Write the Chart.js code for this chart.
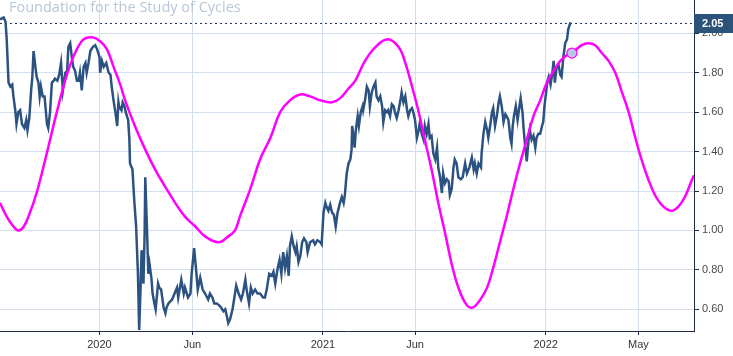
<!DOCTYPE html>
<html>
<head>
<meta charset="utf-8">
<script src="https://cdn.jsdelivr.net/npm/chart.js@4.4.1/dist/chart.umd.min.js"></script>
<style>
html,body{margin:0;padding:0;background:#ffffff;}
#wrap{width:733px;height:356px;position:relative;}
</style>
</head>
<body>
<div id="wrap"><canvas id="c" width="733" height="356"></canvas></div>
<script>
// x values are days since 2020-01-01
const titleText = "Foundation for the Study of Cycles";
const xMin = -163, xMax = 974;
const xTickDays = [0, 152, 366, 517, 731, 883];
const xTickLabels = ["2020", "Jun", "2021", "Jun", "2022", "May"];
const yMin = 0.49, yMax = 2.169;
const yTickValues = [0.6, 0.8, 1.0, 1.2, 1.4, 1.6, 1.8, 2.0];
const lastPrice = 2.05;

const priceDays = [-163,-157,-154,-152,-149,-146,-143,-141,-138,-136,-133,-130,-127,-123,-120,-118,-115,-112,-110,-108,
-105,-103,-100,-98,-96,-93,-90,-86,-84,-81,-78,-75,-73,-69,-66,-63,-60,-56,-53,-51,
-48,-45,-43,-40,-37,-34,-32,-29,-26,-23,-21,-18,-15,-11,-7,-4,0,1,4,7,
11,15,18,20,23,26,29,31,32,36,38,41,43,47,49,50,54,57,60,63,
65,67,69,72,74,75,78,80,82,85,87,90,92,96,98,101,105,108,110,113,
119,123,127,129,134,138,140,145,149,151,155,158,161,165,169,173,178,181,185,188,
192,196,199,203,206,209,211,214,218,221,224,228,232,235,239,241,245,248,251,255,
259,263,268,271,274,278,282,285,288,292,295,298,301,304,307,310,312,315,318,321,
323,326,329,332,335,339,341,345,350,353,357,362,364,367,370,372,375,378,381,384,
387,390,394,397,400,402,405,408,411,413,414,418,420,423,425,428,431,432,435,438,
441,443,446,449,452,454,457,460,463,465,468,471,473,476,479,482,484,487,490,493,
495,498,501,504,506,509,512,514,517,520,523,525,528,531,533,536,539,541,544,547,
550,553,555,558,561,563,566,569,572,574,577,580,582,585,588,592,595,599,602,606,
610,613,615,618,621,625,626,629,632,635,637,640,643,645,648,651,654,656,659,662,
665,667,670,673,675,677,679,682,685,688,690,693,695,697,700,703,705,708,711,714,
716,719,722,725,727,729,732,734,736,739,742,744,746,749,752,755,757,760,763,766,
768,771,773];
const priceValues = [2.07,2.08,2.06,1.97,1.75,1.73,1.74,1.68,1.61,1.54,1.60,1.61,1.54,1.52,1.56,1.51,1.57,1.71,1.78,1.91,
1.83,1.78,1.75,1.68,1.73,1.68,1.68,1.54,1.52,1.60,1.75,1.76,1.77,1.76,1.79,1.85,1.71,1.80,1.81,1.93,
1.95,1.87,1.83,1.81,1.76,1.76,1.80,1.71,1.83,1.85,1.80,1.85,1.91,1.93,1.94,1.92,1.88,1.80,1.86,1.83,
1.85,1.80,1.79,1.73,1.66,1.60,1.53,1.65,1.63,1.61,1.65,1.63,1.60,1.56,1.46,1.34,1.31,1.15,1.02,0.78,
0.495,0.68,0.90,0.73,0.99,1.27,0.99,0.78,0.83,0.76,0.68,0.63,0.60,0.73,0.71,0.70,0.61,0.58,0.61,0.63,
0.65,0.68,0.71,0.66,0.75,0.68,0.71,0.66,0.68,0.78,0.91,0.81,0.70,0.76,0.70,0.68,0.65,0.68,0.66,0.63,
0.63,0.62,0.61,0.59,0.60,0.56,0.53,0.55,0.60,0.66,0.72,0.68,0.65,0.68,0.75,0.70,0.63,0.71,0.68,0.70,
0.68,0.68,0.66,0.66,0.70,0.78,0.77,0.79,0.73,0.81,0.85,0.78,0.89,0.81,0.87,0.77,0.92,0.97,0.92,0.89,
0.92,0.84,0.87,0.94,0.96,0.94,0.89,0.94,0.95,0.93,0.95,0.94,0.93,1.09,1.14,1.12,1.10,1.13,1.09,1.08,
1.02,1.09,1.14,1.17,1.14,1.18,1.29,1.34,1.36,1.41,1.53,1.42,1.51,1.58,1.53,1.60,1.63,1.61,1.66,1.73,
1.71,1.63,1.70,1.73,1.75,1.68,1.66,1.68,1.63,1.55,1.61,1.60,1.61,1.58,1.64,1.63,1.60,1.57,1.61,1.66,
1.70,1.65,1.68,1.61,1.58,1.61,1.62,1.60,1.56,1.47,1.51,1.55,1.49,1.46,1.53,1.49,1.54,1.47,1.48,1.39,
1.36,1.42,1.32,1.27,1.19,1.29,1.24,1.26,1.25,1.18,1.21,1.32,1.36,1.34,1.27,1.26,1.27,1.34,1.29,1.32,
1.37,1.31,1.34,1.29,1.34,1.32,1.39,1.49,1.55,1.51,1.47,1.53,1.60,1.62,1.53,1.58,1.65,1.68,1.63,1.55,
1.59,1.58,1.56,1.47,1.44,1.53,1.58,1.63,1.56,1.63,1.67,1.60,1.51,1.44,1.35,1.46,1.51,1.46,1.48,1.42,
1.47,1.49,1.49,1.53,1.55,1.63,1.71,1.76,1.78,1.74,1.80,1.86,1.75,1.83,1.84,1.79,1.78,1.88,1.95,1.97,
2.02,2.05,2.05];

const cycleDays = [-163,-152,-141,-133,-124,-114,-103,-92,-81,-70,-59,-48,-37,-26,-12,1,12,23,34,42,
58,75,91,108,124,140,157,173,195,211,222,230,247,263,280,296,312,329,345,362,
381,394,408,419,435,452,472,490,501,512,523,533,544,555,566,577,588,602,612,624,
635,645,656,667,678,689,700,711,722,733,744,755,766,774,790,801,812,823,834,845,
856,867,877,888,899,910,921,936,948,959,971,974];
const cycleValues = [1.14,1.07,1.02,1.00,1.02,1.09,1.19,1.32,1.46,1.60,1.73,1.84,1.92,1.97,1.98,1.96,1.92,1.83,1.74,1.66,
1.53,1.41,1.31,1.22,1.14,1.07,1.02,0.97,0.94,0.97,1.00,1.07,1.21,1.36,1.47,1.60,1.66,1.69,1.68,1.66,
1.65,1.67,1.72,1.76,1.86,1.93,1.97,1.93,1.85,1.73,1.60,1.46,1.31,1.14,0.99,0.83,0.71,0.62,0.61,0.65,
0.71,0.81,0.94,1.07,1.21,1.34,1.46,1.58,1.66,1.75,1.81,1.86,1.89,1.90,1.94,1.95,1.94,1.90,1.86,1.80,
1.70,1.60,1.48,1.36,1.26,1.18,1.13,1.10,1.12,1.17,1.26,1.28];

const markerDay = 774, markerValue = 1.90;

const toXY = (xs, ys) => xs.map((x, i) => ({x: x, y: ys[i]}));

const overlayPlugin = {
  id: 'overlay',
  afterDraw(chart) {
    const ctx = chart.ctx;
    const y = chart.scales.y.getPixelForValue(lastPrice);
    const area = chart.chartArea;
    ctx.save();
    ctx.fillStyle = '#2b5279';
    ctx.fillRect(area.right, Math.round(y) - 9, 733 - area.right, 19);
    ctx.fillStyle = '#ffffff';
    ctx.font = 'bold 11px "Liberation Sans", Arial, sans-serif';
    ctx.textBaseline = 'middle';
    ctx.textAlign = 'left';
    ctx.fillText(lastPrice.toFixed(2), area.right + 8, Math.round(y) + 0.5);
    ctx.fillStyle = '#b9c7d7';
    ctx.font = '14.5px "Open Sans", sans-serif';
    ctx.textBaseline = 'middle';
    ctx.fillText(titleText, 9, 8);
    ctx.restore();
  }
};

const zeroPad = s => { s.paddingLeft = 0; s.paddingRight = 0; s.paddingTop = 0; s.paddingBottom = 0; };

new Chart(document.getElementById('c'), {
  type: 'line',
  data: {
    datasets: [
      {
        label: 'last',
        data: toXY([xMin, xMax], [lastPrice, lastPrice]),
        borderColor: '#1f3554',
        borderWidth: 1,
        borderDash: [2, 3],
        pointRadius: 0,
        order: 3
      },
      {
        label: 'price',
        data: toXY(priceDays, priceValues),
        borderColor: '#2c5282',
        borderWidth: 2.5,
        pointRadius: 0,
        tension: 0,
        order: 2
      },
      {
        label: 'cycle',
        data: toXY(cycleDays, cycleValues),
        borderColor: '#ff00ff',
        borderWidth: 2.5,
        pointRadius: 0,
        tension: 0.4,
        order: 1
      },
      {
        label: 'marker',
        data: [{x: markerDay, y: markerValue}],
        showLine: false,
        pointRadius: 5,
        pointBackgroundColor: '#b6c8e2',
        pointBorderColor: '#ff00ff',
        pointBorderWidth: 1.2,
        order: 0
      }
    ]
  },
  options: {
    responsive: false,
    animation: false,
    events: [],
    layout: {padding: 0, autoPadding: false},
    plugins: {legend: {display: false}, tooltip: {enabled: false}, title: {display: false}},
    scales: {
      x: {
        type: 'linear',
        min: xMin, max: xMax,
        afterBuildTicks: s => { s.ticks = xTickDays.map(v => ({value: v})); },
        afterFit: s => { s.height = 25; zeroPad(s); },
        grid: {color: '#d3dfec', tickColor: '#1f2a44', tickLength: 4, drawOnChartArea: true},
        border: {display: true, color: '#1f2a44', width: 1},
        ticks: {
          callback: v => { const i = xTickDays.indexOf(v); return i >= 0 ? xTickLabels[i] : ''; },
          color: '#333333', font: {family: '"Liberation Sans", Arial, sans-serif', size: 11},
          padding: 3, maxRotation: 0, autoSkip: false
        }
      },
      y: {
        position: 'right',
        min: yMin, max: yMax,
        afterBuildTicks: s => { s.ticks = yTickValues.map(v => ({value: v})); },
        afterFit: s => { s.width = 39; zeroPad(s); },
        grid: {color: '#d3dfec', tickColor: '#1f2a44', tickLength: 5, drawOnChartArea: true},
        border: {display: true, color: '#1f2a44', width: 1},
        ticks: {
          callback: v => Number(v).toFixed(2),
          color: '#4a4a4a', font: {family: '"Liberation Sans", Arial, sans-serif', size: 11},
          padding: 3
        }
      }
    }
  },
  plugins: [overlayPlugin]
});
</script>
</body>
</html>
